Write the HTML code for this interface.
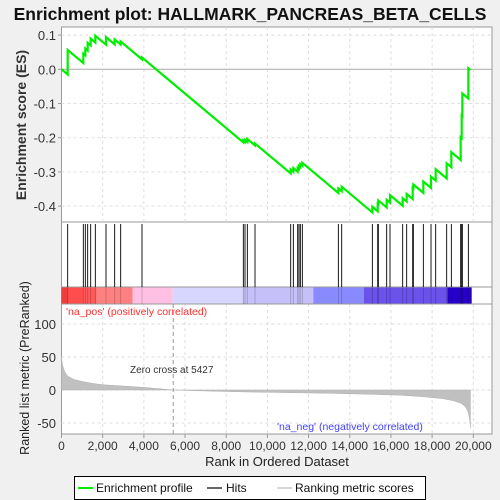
<!DOCTYPE html>
<html><head><meta charset="utf-8"><style>
body{margin:0;background:#f0f0f0;}
svg{display:block;font-family:"Liberation Sans",sans-serif;}
</style></head><body>
<svg id="c" width="500" height="500" xmlns="http://www.w3.org/2000/svg"></svg>
<script>
const hitRanks=[300,1060,1157,1271,1417,1643,2161,2582,2874,3910,8831,8913,9026,9398,11131,11260,11470,11535,11600,11697,13446,13608,15097,15357,15388,15793,15955,16570,16764,17056,17088,17574,17946,18173,18707,18934,19387,19436,19468,19760];
const hitWeights=[.065,.025,.018,.02,.018,.018,.02,.013,.008,.005,.005,.005,.008,.005,.01,.01,.01,.008,.008,.008,.012,.012,.015,.02,.01,.02,.02,.02,.02,.03,.01,.03,.03,.03,.04,.04,.06,.06,.06,.08];
const metricRanks=[0,50,150,300,600,1000,1500,2000,3000,4000,5427,7000,9000,11000,13000,15000,16500,17500,18500,19000,19400,19600,19750,19820,19860];
const metricVals=[50,38,28,21,16,13,10,8,6,4,0,-1.5,-3,-4,-5,-6.5,-8,-10,-13,-16,-20,-25,-33,-45,-58];
const esTicks=[0.1,0,-0.1,-0.2,-0.3,-0.4];
const metricTicks=[100,50,0,-50];
const xTicks=[0,2000,4000,6000,8000,10000,12000,14000,16000,18000,20000];
const N=19860;

const svg=document.getElementById('c');const NS='http://www.w3.org/2000/svg';
function el(t,a,txt){const e=document.createElementNS(NS,t);for(const k in a)e.setAttribute(k,a[k]);if(txt!==undefined)e.textContent=txt;svg.appendChild(e);return e;}
const L=61.5,R=477;
const X=r=>61.5+r*(473.3-61.5)/20000;
const YE=v=>69.3-v*342;
const YM=v=>390-v*0.66;

let t=el('text',{x:250,y:20,'text-anchor':'middle','font-size':'17.5','font-weight':'bold',fill:'#111'},'Enrichment plot: HALLMARK_PANCREAS_BETA_CELLS');


let p=el('rect',{x:L,y:27,width:R+15-L,height:195,fill:'#fff',stroke:'#999'});

p=el('rect',{x:L,y:222,width:R+15-L,height:82,fill:'#fff',stroke:'#999'});

p=el('rect',{x:L,y:304,width:R+15-L,height:130,fill:'#fff',stroke:'#999'});


xTicks.forEach(v=>{
 if(v===0)return;
 el('line',{x1:X(v),x2:X(v),y1:27,y2:222,stroke:'#ddd','stroke-dasharray':'3,3'});
 el('line',{x1:X(v),x2:X(v),y1:304,y2:434,stroke:'#ddd','stroke-dasharray':'3,3'});
});
esTicks.forEach(v=>{
 if(v!==0)el('line',{x1:L,x2:492,y1:YE(v),y2:YE(v),stroke:'#ddd','stroke-dasharray':'3,3'});
 let tt=el('text',{x:56,y:YE(v)+5,'text-anchor':'end','font-size':'13',fill:'#333'},v===0?'0.0':v.toFixed(1));
 
 el('line',{x1:58,x2:L,y1:YE(v),y2:YE(v),stroke:'#999'});
});
el('line',{x1:L,x2:492,y1:YE(0),y2:YE(0),stroke:'#aaa','stroke-width':1});
metricTicks.forEach(v=>{
 el('line',{x1:L,x2:492,y1:YM(v),y2:YM(v),stroke:'#ddd','stroke-dasharray':'3,3'});
 let tt=el('text',{x:56,y:YM(v)+5,'text-anchor':'end','font-size':'13',fill:'#333'},String(v));
 
});

const segs=[[61.5,'#f03c3c'],[68,'#ff4d4d'],[83,'#ff5a5a'],[96.7,'#ff8080'],[132.7,'#ffc0e4'],[172.7,'#d6d6ff'],[242.7,'#c6c0f8'],[313.3,'#8a8aff'],[364,'#6a52ea'],[447.3,'#2600c8'],[471.7,'#fff']];
for(let i=0;i<segs.length-1;i++){
 let r=el('rect',{x:segs[i][0],y:287,width:segs[i+1][0]-segs[i][0],height:17,fill:segs[i][1]});
 
}
el('line',{x1:L,x2:492,y1:287,y2:287,stroke:'#999'});
el('line',{x1:L,x2:492,y1:304,y2:304,stroke:'#999'});

hitRanks.forEach(r=>{
 let h=el('line',{x1:X(r),x2:X(r),y1:224,y2:287,stroke:'#000','stroke-width':0.9});
 
 el('line',{x1:X(r),x2:X(r),y1:287,y2:304,stroke:'rgba(0,0,0,0.2)','stroke-width':0.9});
});

let d='M'+X(0)+','+YM(0);
metricRanks.forEach((r,i)=>{d+=' L'+X(r)+','+YM(metricVals[i]);});
d+=' L'+X(N)+','+YM(0)+' Z';
let a=el('path',{d:d,fill:'#c0c0c0',stroke:'#b0b0b0','stroke-width':0.5});

el('line',{x1:X(5427),x2:X(5427),y1:304,y2:434,stroke:'#999','stroke-dasharray':'4,3'});
t=el('text',{x:130,y:373,'font-size':'10',fill:'#333'},'Zero cross at 5427');

t=el('text',{x:66,y:315,'font-size':'10.5',fill:'#ff3030'},"'na_pos' (positively correlated)");

t=el('text',{x:277,y:430,'font-size':'10.5',fill:'#4040ff'},"'na_neg' (negatively correlated)");


const tot=hitWeights.reduce((s,v)=>s+v,0);
const dec=1/(N-hitRanks.length);
let es=0,prev=0,pts=[[X(0),YE(0)]];
hitRanks.forEach((r,i)=>{
 es-=(r-prev)*dec;pts.push([X(r),YE(es)]);
 es+=hitWeights[i]/tot;pts.push([X(r),YE(es)]);prev=r;
});
es-=(N-prev)*dec;pts.push([X(N),YE(es)]);
let c=el('polyline',{points:pts.map(p=>p.join(',')).join(' '),fill:'none',stroke:'#00ee00','stroke-width':2.2});


xTicks.forEach(v=>{
 el('line',{x1:X(v),x2:X(v),y1:434,y2:438,stroke:'#999'});
 let tt=el('text',{x:X(v),y:450,'text-anchor':'middle','font-size':'12',fill:'#333'},v.toLocaleString('en-US'));
 
});
t=el('text',{x:277,y:466,'text-anchor':'middle','font-size':'13',fill:'#222'},'Rank in Ordered Dataset');

t=el('text',{x:0,y:0,transform:'translate(26,125) rotate(-90)','text-anchor':'middle','font-size':'14','font-weight':'bold',fill:'#333'},'Enrichment score (ES)');

t=el('text',{x:0,y:0,transform:'translate(29,368) rotate(-90)','text-anchor':'middle','font-size':'12.5',fill:'#222'},'Ranked list metric (PreRanked)');


let lg=el('rect',{x:74.5,y:476.5,width:351,height:23,fill:'#fff',stroke:'#000'});

el('line',{x1:78,x2:93,y1:488,y2:488,stroke:'#00ee00','stroke-width':2});
t=el('text',{x:96,y:492,'font-size':'12',fill:'#111'},'Enrichment profile');

el('line',{x1:207,x2:222,y1:488,y2:488,stroke:'#000','stroke-width':1.2});
t=el('text',{x:226,y:492,'font-size':'12',fill:'#111'},'Hits');

el('line',{x1:277,x2:292,y1:488,y2:488,stroke:'#bbb','stroke-width':1.2});
t=el('text',{x:295,y:492,'font-size':'12',fill:'#111'},'Ranking metric scores');

</script>
</body></html>
